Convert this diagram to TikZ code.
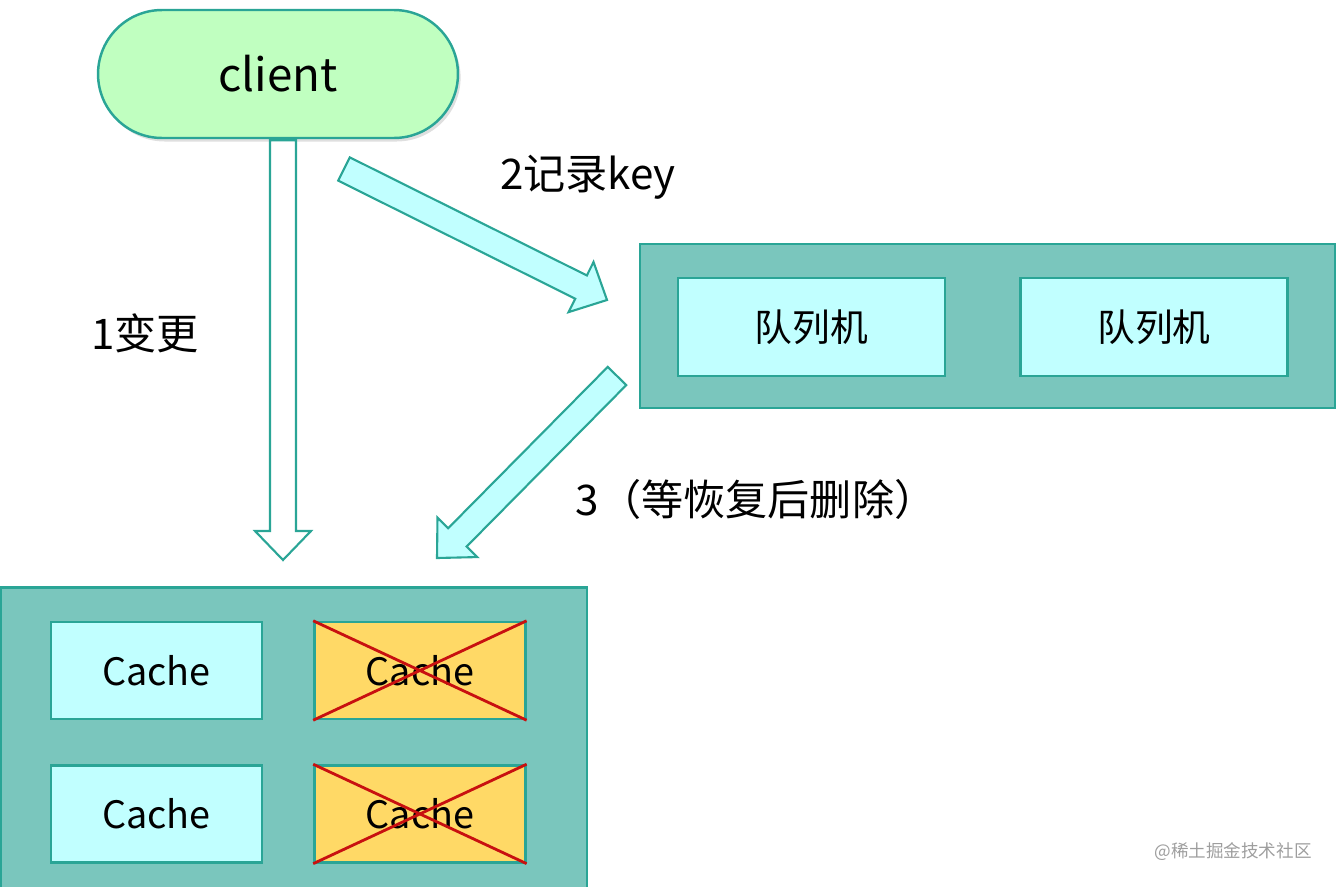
\documentclass[tikz,border=0pt]{standalone}
\usepackage{fontspec}
\newfontfamily\cjk{Noto Sans CJK SC}
\usetikzlibrary{positioning,calc,shadows}

\definecolor{edgeteal}{RGB}{42,165,150}
\definecolor{boxteal}{RGB}{122,198,189}
\definecolor{lightcyan}{RGB}{193,255,255}
\definecolor{lightgreen}{RGB}{192,255,192}
\definecolor{cacheyellow}{RGB}{255,217,102}
\definecolor{crossred}{RGB}{200,16,16}

% hollow block arrow: from, to, fill
\newcommand{\blockarrow}[3]{%
  \coordinate (hb) at ($(#2)!0.58cm!(#1)$);
  \draw[arrowline,fill=#3] ($(#1)!0.26cm!90:(#2)$) -- ($(hb)!0.26cm!90:(#2)$)
    -- ($(hb)!0.56cm!90:(#2)$) -- (#2) -- ($(hb)!0.56cm!-90:(#2)$)
    -- ($(hb)!0.26cm!-90:(#2)$) -- ($(#1)!0.26cm!-90:(#2)$) -- cycle;}

\begin{document}
\begin{tikzpicture}[
    x=0.02cm, y=-0.02cm,
    clientnode/.style={draw=edgeteal,line width=1.4pt,fill=lightgreen,rounded corners=1.28cm,
      minimum width=7.2cm,minimum height=2.56cm,font=\cjk\fontsize{26}{30}\selectfont,
      drop shadow={shadow xshift=1.5pt,shadow yshift=-2pt,opacity=0.25}},
    outerbox/.style={draw=edgeteal,line width=1.4pt,fill=boxteal},
    innerbox/.style={draw=edgeteal,line width=1.4pt,fill=lightcyan,minimum width=5.34cm,
      minimum height=1.96cm,font=\cjk\fontsize{21.5}{26}\selectfont},
    cachenode/.style={innerbox,minimum width=4.22cm,minimum height=1.94cm},
    deadnode/.style={cachenode,fill=cacheyellow},
    crossline/.style={draw=crossred,line width=1.6pt},
    arrowline/.style={draw=edgeteal,line width=1.2pt,line join=miter},
    lbl/.style={font=\cjk\fontsize{24}{28}\selectfont},
    watermark/.style={font=\cjk\fontsize{10}{12}\selectfont,text=black!38}
    ]
    \useasboundingbox (0,0) rectangle (1338,886);

    \node[clientnode] (client) at (278,74) {client};

    \node[outerbox,minimum width=13.9cm,minimum height=3.28cm] (queue) at (987.5,326) {};
    \node[innerbox] (q1) at (811.5,327) {队列机};
    \node[innerbox,right=1.46cm of q1] (q2) {队列机};

    \node[outerbox,minimum width=11.72cm,minimum height=6.1cm] (cache) at (294,740) {};
    \node[cachenode] (c1) at (156.5,670.5) {Cache};
    \node[deadnode,right=1.0cm of c1] (c2) {Cache};
    \node[cachenode,below=0.88cm of c1] (c3) {Cache};
    \node[deadnode,below=0.88cm of c2] (c4) {Cache};

    \draw[crossline] (c2.north west) -- (c2.south east) (c2.south west) -- (c2.north east);
    \draw[crossline] (c4.north west) -- (c4.south east) (c4.south west) -- (c4.north east);

    \node[lbl] (change) at (145,333) {1变更};
    \node[lbl] (record) at (588,177) {2记录key};
    \node[lbl] (delete) at (756,499) {3（等恢复后删除）};
    \node[watermark] (wm) at (1233,852) {@稀土掘金技术社区};

    \coordinate (s1) at ($(client.south)+(5,1)$);
    \coordinate (t1) at (283,560);
    \coordinate (s2) at (344,169);
    \coordinate (t2) at (607,300);
    \coordinate (s3) at (617,376);
    \coordinate (t3) at (437,558);

    \blockarrow{s1}{t1}{white}
    \blockarrow{s2}{t2}{lightcyan}
    \blockarrow{s3}{t3}{lightcyan}

  \end{tikzpicture}
\end{document}
